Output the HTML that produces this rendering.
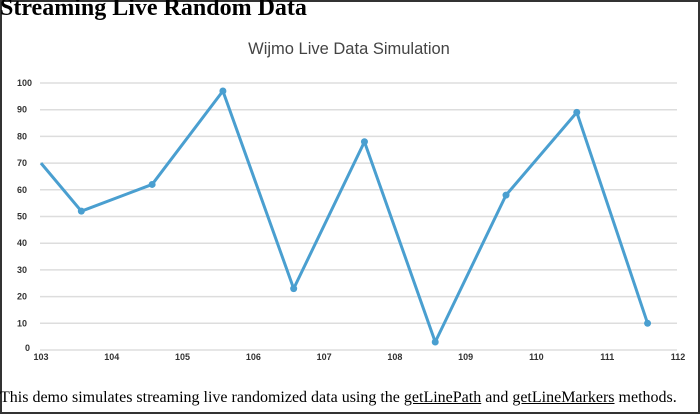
<!DOCTYPE html>
<html><head><meta charset="utf-8"><style>
html,body{margin:0;padding:0;background:#fff}
#frame{position:absolute;left:0;top:0;width:696px;height:410px;border:2px solid #333}
h1{position:absolute;left:0;top:-5px;margin:0;font:bold 24px "Liberation Serif",serif;color:#000;white-space:nowrap}
#desc{position:absolute;left:0;top:389px;font:16px "Liberation Serif",serif;color:#000;white-space:nowrap}
#desc u{text-decoration:underline}
</style></head><body>
<div id="frame"></div>
<h1>Streaming Live Random Data</h1>
<svg id="chart" width="700" height="414" style="position:absolute;left:0;top:0">
<text x="349" y="54" text-anchor="middle" font-family="Liberation Sans, sans-serif" font-size="16.5" fill="#444">Wijmo Live Data Simulation</text>
</svg>
<div id="desc">This demo simulates streaming live randomized data using the <u>getLinePath</u> and <u>getLineMarkers</u> methods.</div>
<script>
const xValues=[103,103.57,104.57,105.57,106.57,107.57,108.57,109.57,110.57,111.57];
const yValues=[70,52,62,97,23,78,3,58,89,10];
const markerFlags=[0,1,1,1,1,1,1,1,1,1];
const yTicks=[0,10,20,30,40,50,60,70,80,90,100];
const xTicks=[103,104,105,106,107,108,109,110,111,112];
const NS='http://www.w3.org/2000/svg';
const svg=document.getElementById('chart');
const X=v=>41+(v-103)*(678-41)/9;
const Y=v=>350-v*(350-83)/100;
function mk(t,a){const e=document.createElementNS(NS,t);for(const k in a)e.setAttribute(k,a[k]);svg.appendChild(e);return e;}
yTicks.forEach(t=>{
  const l=mk('line',{x1:40,x2:677,y1:Y(t),y2:Y(t),stroke:'#ddd','stroke-width':1.5});
  
  
  const tx=mk('text',{x:t===0?25:17,y:Y(t)+(t===0?1:3),'font-family':'Liberation Sans, sans-serif','font-size':9,'font-weight':'bold',fill:'#333'});
  tx.textContent=t;
  
  
});
xTicks.forEach(t=>{
  const tx=mk('text',{x:X(t),y:360,'text-anchor':'middle','font-family':'Liberation Sans, sans-serif','font-size':9,'font-weight':'bold',fill:'#333'});
  tx.textContent=t;
  
  
});
const pts=xValues.map((x,i)=>X(x)+','+Y(yValues[i])).join(' ');
const pl=mk('polyline',{points:pts,fill:'none',stroke:'#4a9fd0','stroke-width':3,'stroke-linejoin':'round'});


xValues.forEach((x,i)=>{ if(!markerFlags[i])return;
  const c=mk('circle',{cx:X(x),cy:Y(yValues[i]),r:3.5,fill:'#4a9fd0'});
  
  
});
</script>
</body></html>
